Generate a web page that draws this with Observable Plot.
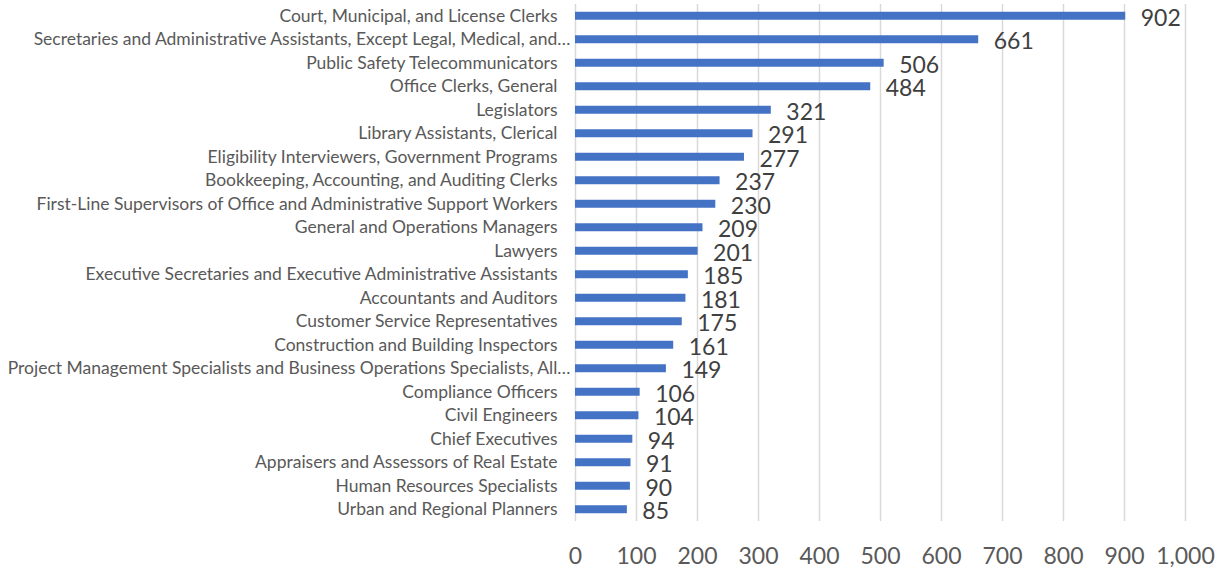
<!DOCTYPE html>
<html>
<head>
<meta charset="utf-8">
<script src="https://cdn.jsdelivr.net/npm/d3@7"></script>
<script src="https://cdn.jsdelivr.net/npm/@observablehq/plot@0.6"></script>
<style>
  html, body { margin: 0; padding: 0; background: #ffffff; }
  #chart svg { display: block; }
</style>
</head>
<body>
<div id="chart"></div>
<script>
const categories = [
  "Court, Municipal, and License Clerks",
  "Secretaries and Administrative Assistants, Except Legal, Medical, and…",
  "Public Safety Telecommunicators",
  "Office Clerks, General",
  "Legislators",
  "Library Assistants, Clerical",
  "Eligibility Interviewers, Government Programs",
  "Bookkeeping, Accounting, and Auditing Clerks",
  "First-Line Supervisors of Office and Administrative Support Workers",
  "General and Operations Managers",
  "Lawyers",
  "Executive Secretaries and Executive Administrative Assistants",
  "Accountants and Auditors",
  "Customer Service Representatives",
  "Construction and Building Inspectors",
  "Project Management Specialists and Business Operations Specialists, All…",
  "Compliance Officers",
  "Civil Engineers",
  "Chief Executives",
  "Appraisers and Assessors of Real Estate",
  "Human Resources Specialists",
  "Urban and Regional Planners"
];
const values = [902, 661, 506, 484, 321, 291, 277, 237, 230, 209, 201, 185, 181, 175, 161, 149, 106, 104, 94, 91, 90, 85];
const xTicks = [0, 100, 200, 300, 400, 500, 600, 700, 800, 900, 1000];

const data = categories.map((c, i) => ({category: c, value: values[i]}));
const truncated = categories.filter(c => c.endsWith("…"));
const normal = categories.filter(c => !c.endsWith("…"));

const chart = Plot.plot({
  width: 1225,
  height: 573,
  marginLeft: 575,
  marginRight: 40,
  marginTop: 4,
  marginBottom: 52,
  style: {fontFamily: "Lato, 'Open Sans', sans-serif", background: "#ffffff"},
  x: {domain: [0, 1000], axis: null, label: null},
  y: {domain: categories, paddingInner: 0.66, paddingOuter: 0.33, round: false, axis: null, label: null},
  marks: [
    Plot.gridX(xTicks, {stroke: "#d9d9d9", strokeOpacity: 1, strokeWidth: 1.5}),
    Plot.barX(data, {x: "value", y: "category", fill: "#4472C4"}),
    Plot.text(data, {x: "value", y: "category", text: d => String(d.value), textAnchor: "start", dx: 15, dy: 2, fontSize: 23, fill: "#404040"}),
    Plot.axisY({ticks: normal, tickSize: 0, tickPadding: 18, fontSize: 17.5, color: "#595959", fill: "#595959", label: null}),
    Plot.axisY({ticks: truncated, tickSize: 0, tickPadding: 5, fontSize: 17.5, color: "#595959", fill: "#595959", label: null}),
    Plot.axisX({ticks: xTicks, tickFormat: d3.format(","), tickSize: 0, tickPadding: 26, fontSize: 23, color: "#595959", fill: "#595959", label: null})
  ]
});
document.getElementById("chart").appendChild(chart);
</script>
</body>
</html>
